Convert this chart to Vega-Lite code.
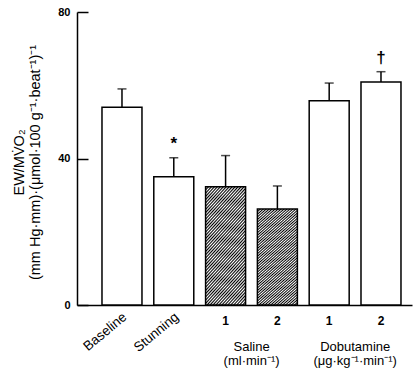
{
  "$schema": "https://vega.github.io/schema/vega-lite/v6.json",
  "width": 335,
  "height": 293,
  "autosize": "none",
  "padding": {"left": 77, "top": 12, "right": 7, "bottom": 68},
  "background": "white",
  "config": {
    "view": {"stroke": null},
    "font": "Liberation Sans",
    "axis": {"domainColor": "black", "domainWidth": 1.5, "tickColor": "black", "tickWidth": 1.5, "labelColor": "black", "titleColor": "black", "grid": false}
  },
  "datasets": {
    "bars": [
      {"cat": "Baseline", "group": "open", "mean": 54, "err": 59, "sig": ""},
      {"cat": "Stunning", "group": "open", "mean": 35, "err": 40.2, "sig": "*"},
      {"cat": "Saline 1", "group": "saline", "mean": 32.3, "err": 40.8, "sig": ""},
      {"cat": "Saline 2", "group": "saline", "mean": 26.2, "err": 32.5, "sig": ""},
      {"cat": "Dobutamine 1", "group": "open", "mean": 55.8, "err": 60.6, "sig": ""},
      {"cat": "Dobutamine 2", "group": "open", "mean": 60.9, "err": 63.7, "sig": "†"}
    ],
    "groups": [
      {"cat": "Saline 1", "text": "Saline\n(ml·min⁻¹)"},
      {"cat": "Dobutamine 1", "text": "Dobutamine\n(μg·kg⁻¹·min⁻¹)"}
    ]
  },
  "data": {"name": "bars"},
  "encoding": {
    "x": {
      "field": "cat", "type": "nominal", "sort": null,
      "scale": {"domain": ["Baseline", "Stunning", "Saline 1", "Saline 2", "Dobutamine 1", "Dobutamine 2"], "paddingInner": 0.228, "paddingOuter": 0.3475, "align": 0.694},
      "axis": {
        "title": null, "ticks": false, "labelAngle": 0, "labelFontSize": 12, "labelFontWeight": "bold", "labelPadding": 10,
        "labelExpr": "datum.value == 'Saline 1' || datum.value == 'Dobutamine 1' ? '1' : (datum.value == 'Saline 2' || datum.value == 'Dobutamine 2' ? '2' : '')"
      }
    }
  },
  "layer": [
    {
      "mark": {"type": "bar", "stroke": "black", "strokeWidth": 1.5, "fill": "white"},
      "transform": [{"filter": "datum.group == 'open'"}],
      "encoding": {
        "y": {
          "field": "mean", "type": "quantitative",
          "scale": {"domain": [0, 80], "nice": false},
          "axis": {
            "values": [0, 40, 80], "tickSize": -11, "labelPadding": 18, "labelFontSize": 11, "labelFontWeight": "bold",
            "title": ["EW/MV̇O₂", "(mm Hg·mm)·(μmol·100 g⁻¹·beat⁻¹)⁻¹"],
            "titleFontSize": 14.5, "titleFontWeight": "normal", "titlePadding": 15, "titleLineHeight": 16, "titleY": 150
          }
        }
      }
    },
    {
      "mark": {
        "type": "bar", "stroke": "black", "strokeWidth": 1.5,
        "fill": {
          "gradient": "linear", "x1": 0, "y1": 0, "x2": 0.446, "y2": 1.205,
          "stops": [
            {"offset": 0.00, "color": "#000"}, {"offset": 0.01, "color": "#fff"},
            {"offset": 0.02, "color": "#000"}, {"offset": 0.03, "color": "#fff"},
            {"offset": 0.04, "color": "#000"}, {"offset": 0.05, "color": "#fff"},
            {"offset": 0.06, "color": "#000"}, {"offset": 0.07, "color": "#fff"},
            {"offset": 0.08, "color": "#000"}, {"offset": 0.09, "color": "#fff"},
            {"offset": 0.10, "color": "#000"}, {"offset": 0.11, "color": "#fff"},
            {"offset": 0.12, "color": "#000"}, {"offset": 0.13, "color": "#fff"},
            {"offset": 0.14, "color": "#000"}, {"offset": 0.15, "color": "#fff"},
            {"offset": 0.16, "color": "#000"}, {"offset": 0.17, "color": "#fff"},
            {"offset": 0.18, "color": "#000"}, {"offset": 0.19, "color": "#fff"},
            {"offset": 0.20, "color": "#000"}, {"offset": 0.21, "color": "#fff"},
            {"offset": 0.22, "color": "#000"}, {"offset": 0.23, "color": "#fff"},
            {"offset": 0.24, "color": "#000"}, {"offset": 0.25, "color": "#fff"},
            {"offset": 0.26, "color": "#000"}, {"offset": 0.27, "color": "#fff"},
            {"offset": 0.28, "color": "#000"}, {"offset": 0.29, "color": "#fff"},
            {"offset": 0.30, "color": "#000"}, {"offset": 0.31, "color": "#fff"},
            {"offset": 0.32, "color": "#000"}, {"offset": 0.33, "color": "#fff"},
            {"offset": 0.34, "color": "#000"}, {"offset": 0.35, "color": "#fff"},
            {"offset": 0.36, "color": "#000"}, {"offset": 0.37, "color": "#fff"},
            {"offset": 0.38, "color": "#000"}, {"offset": 0.39, "color": "#fff"},
            {"offset": 0.40, "color": "#000"}, {"offset": 0.41, "color": "#fff"},
            {"offset": 0.42, "color": "#000"}, {"offset": 0.43, "color": "#fff"},
            {"offset": 0.44, "color": "#000"}, {"offset": 0.45, "color": "#fff"},
            {"offset": 0.46, "color": "#000"}, {"offset": 0.47, "color": "#fff"},
            {"offset": 0.48, "color": "#000"}, {"offset": 0.49, "color": "#fff"},
            {"offset": 0.50, "color": "#000"}, {"offset": 0.51, "color": "#fff"},
            {"offset": 0.52, "color": "#000"}, {"offset": 0.53, "color": "#fff"},
            {"offset": 0.54, "color": "#000"}, {"offset": 0.55, "color": "#fff"},
            {"offset": 0.56, "color": "#000"}, {"offset": 0.57, "color": "#fff"},
            {"offset": 0.58, "color": "#000"}, {"offset": 0.59, "color": "#fff"},
            {"offset": 0.60, "color": "#000"}, {"offset": 0.61, "color": "#fff"},
            {"offset": 0.62, "color": "#000"}, {"offset": 0.63, "color": "#fff"},
            {"offset": 0.64, "color": "#000"}, {"offset": 0.65, "color": "#fff"},
            {"offset": 0.66, "color": "#000"}, {"offset": 0.67, "color": "#fff"},
            {"offset": 0.68, "color": "#000"}, {"offset": 0.69, "color": "#fff"},
            {"offset": 0.70, "color": "#000"}, {"offset": 0.71, "color": "#fff"},
            {"offset": 0.72, "color": "#000"}, {"offset": 0.73, "color": "#fff"},
            {"offset": 0.74, "color": "#000"}, {"offset": 0.75, "color": "#fff"},
            {"offset": 0.76, "color": "#000"}, {"offset": 0.77, "color": "#fff"},
            {"offset": 0.78, "color": "#000"}, {"offset": 0.79, "color": "#fff"},
            {"offset": 0.80, "color": "#000"}, {"offset": 0.81, "color": "#fff"},
            {"offset": 0.82, "color": "#000"}, {"offset": 0.83, "color": "#fff"},
            {"offset": 0.84, "color": "#000"}, {"offset": 0.85, "color": "#fff"},
            {"offset": 0.86, "color": "#000"}, {"offset": 0.87, "color": "#fff"},
            {"offset": 0.88, "color": "#000"}, {"offset": 0.89, "color": "#fff"},
            {"offset": 0.90, "color": "#000"}, {"offset": 0.91, "color": "#fff"},
            {"offset": 0.92, "color": "#000"}, {"offset": 0.93, "color": "#fff"},
            {"offset": 0.94, "color": "#000"}, {"offset": 0.95, "color": "#fff"},
            {"offset": 0.96, "color": "#000"}, {"offset": 0.97, "color": "#fff"},
            {"offset": 0.98, "color": "#000"}, {"offset": 0.99, "color": "#fff"},
            {"offset": 1.00, "color": "#000"}
          ]
        }
      },
      "transform": [{"filter": "datum.group == 'saline'"}],
      "encoding": {"y": {"field": "mean", "type": "quantitative"}}
    },
    {
      "mark": {"type": "rule", "color": "black", "strokeWidth": 1.5},
      "encoding": {"y": {"field": "mean", "type": "quantitative"}, "y2": {"field": "err"}}
    },
    {
      "mark": {"type": "tick", "orient": "horizontal", "color": "black", "size": 9, "thickness": 1.5},
      "encoding": {"y": {"field": "err", "type": "quantitative"}}
    },
    {
      "mark": {"type": "text", "fontSize": 17, "fontWeight": "bold", "baseline": "middle", "dy": -14, "color": "black"},
      "encoding": {"y": {"field": "err", "type": "quantitative"}, "text": {"field": "sig"}}
    },
    {
      "mark": {"type": "text", "fontSize": 13.5, "angle": -40, "align": "right", "baseline": "middle", "dx": 4, "color": "black"},
      "transform": [{"filter": "datum.cat == 'Baseline' || datum.cat == 'Stunning'"}],
      "encoding": {"y": {"datum": -3.5}, "text": {"field": "cat"}}
    },
    {
      "data": {"name": "groups"},
      "mark": {"type": "text", "fontSize": 13, "align": "center", "baseline": "middle", "lineBreak": "\n", "lineHeight": 14, "color": "black"},
      "encoding": {"x": {"field": "cat", "type": "nominal", "bandPosition": 1.15}, "y": {"datum": -11.5}, "text": {"field": "text"}}
    }
  ]
}
